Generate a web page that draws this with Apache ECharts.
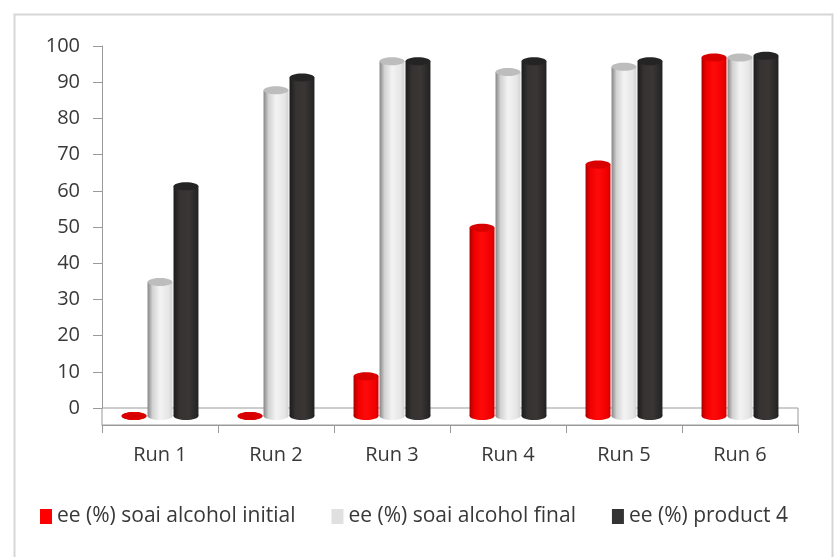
<!DOCTYPE html>
<html>
<head>
<meta charset="utf-8">
<script src="https://cdn.jsdelivr.net/npm/echarts@6/dist/echarts.min.js"></script>
<style>
  html, body { margin: 0; padding: 0; background: #ffffff; }
  #chart { width: 836px; height: 557px; }
</style>
</head>
<body>
<div id="chart"></div>
<script>
// Runs and enantiomeric excess values (%)
const categories = ['Run 1', 'Run 2', 'Run 3', 'Run 4', 'Run 5', 'Run 6'];
const eeInitial = [0, 0, 11, 52, 69.5, 99];
const eeFinal = [37, 90, 98, 95, 96.5, 99];
const eeProduct = [63.5, 93.5, 98, 98, 98, 99.5];
const seriesNames = ['ee (%) soai alcohol initial', 'ee (%) soai alcohol final', 'ee (%) product 4'];
const yTicks = { min: 0, max: 100, interval: 10 };

const FONT = '"Open Sans", "Noto Sans", sans-serif';
const AXIS_FONT_SIZE = 20;
const LEGEND_FONT_SIZE = 21;
const TEXT = '#383838';
const LINE = '#9a9a9a';

// Cylinder shading for each series: horizontal gradient body plus a flat cap
const palettes = [
  { flat: '#ff0000', cap: '#d90000',
    body: [{offset: 0, color: '#a80000'}, {offset: 0.18, color: '#f00000'}, {offset: 0.5, color: '#ff0a0a'}, {offset: 0.85, color: '#f00000'}, {offset: 1, color: '#d00000'}] },
  { flat: '#e0e0e0', cap: '#bdbdbd',
    body: [{offset: 0, color: '#858585'}, {offset: 0.2, color: '#d2d2d2'}, {offset: 0.5, color: '#f3f3f3'}, {offset: 0.85, color: '#e6e6e6'}, {offset: 1, color: '#d2d2d2'}] },
  { flat: '#333333', cap: '#242424',
    body: [{offset: 0, color: '#1c1c1c'}, {offset: 0.25, color: '#363232'}, {offset: 0.6, color: '#3b3636'}, {offset: 1, color: '#222222'}] }
];

function cylinder(slot, pal) {
  return function (params, api) {
    const cat = api.value(0);
    const val = api.value(1);
    const band = api.size([1, 0])[0];
    const w = band * 0.215;
    const step = band * 0.224;
    const base = api.coord([cat, 0]);
    const top = api.coord([cat, val]);
    const cx = base[0] + slot * step;
    const rx = w / 2, ry = 4;
    const fillBody = new echarts.graphic.LinearGradient(0, 0, 1, 0, pal.body);
    return {
      type: 'group',
      children: [
        { type: 'ellipse', shape: { cx: cx, cy: base[1], rx: rx, ry: ry }, style: { fill: fillBody } },
        { type: 'rect', shape: { x: cx - rx, y: top[1], width: w, height: base[1] - top[1] }, style: { fill: fillBody } },
        { type: 'ellipse', shape: { cx: cx, cy: top[1], rx: rx, ry: ry }, style: { fill: pal.cap } }
      ]
    };
  };
}

const valueSets = [eeInitial, eeFinal, eeProduct];
const series = valueSets.map(function (vals, i) {
  return {
    name: seriesNames[i],
    type: 'custom',
    xAxisIndex: 2,
    yAxisIndex: 2,
    renderItem: cylinder(i - 1, palettes[i]),
    itemStyle: { color: palettes[i].flat },
    encode: { x: 0, y: 1 },
    data: vals.map(function (v, k) { return [k, v]; }),
    z: 5
  };
});

const chart = echarts.init(document.getElementById('chart'), null, { renderer: 'canvas' });

chart.setOption({
  backgroundColor: '#ffffff',
  animation: false,
  textStyle: { fontFamily: FONT },
  graphic: [{
    type: 'rect',
    left: 12, top: 12,
    shape: { width: 818, height: 560 },
    style: { fill: 'none', stroke: '#d6d6d6', lineWidth: 2 },
    silent: true
  }],
  legend: {
    left: 35, top: 501,
    itemWidth: 12, itemHeight: 15,
    itemGap: 36,
    icon: 'rect',
    data: seriesNames,
    textStyle: { fontFamily: FONT, fontSize: LEGEND_FONT_SIZE, color: TEXT }
  },
  grid: [
    // back wall with the value axis
    { left: 102, right: 38, top: 46, bottom: 149, show: false },
    // floor strip in front of the wall
    { left: 102, right: 38, top: 408, height: 17, show: true, borderColor: LINE, borderWidth: 1, backgroundColor: 'transparent' },
    // plane the cylinders stand on
    { left: 102, right: 38, top: 54, bottom: 141, show: false }
  ],
  xAxis: [
    { gridIndex: 0, type: 'category', data: categories, show: false },
    { gridIndex: 1, type: 'category', data: categories, position: 'bottom',
      axisLine: { show: true, lineStyle: { color: LINE, width: 1 } },
      axisTick: { show: true, length: 8, lineStyle: { color: LINE } },
      axisLabel: { margin: 20, fontFamily: FONT, fontSize: AXIS_FONT_SIZE, color: TEXT } },
    { gridIndex: 2, type: 'category', data: categories, show: false }
  ],
  yAxis: [
    { gridIndex: 0, type: 'value', min: yTicks.min, max: yTicks.max, interval: yTicks.interval,
      axisLine: { show: true, lineStyle: { color: LINE, width: 1 } },
      axisTick: { show: true, length: 9, lineStyle: { color: LINE } },
      splitLine: { show: false },
      axisLabel: { margin: 22, fontFamily: FONT, fontSize: AXIS_FONT_SIZE, color: TEXT } },
    { gridIndex: 1, type: 'value', show: false },
    { gridIndex: 2, type: 'value', min: yTicks.min, max: yTicks.max, show: false }
  ],
  series: series
});
</script>
</body>
</html>
